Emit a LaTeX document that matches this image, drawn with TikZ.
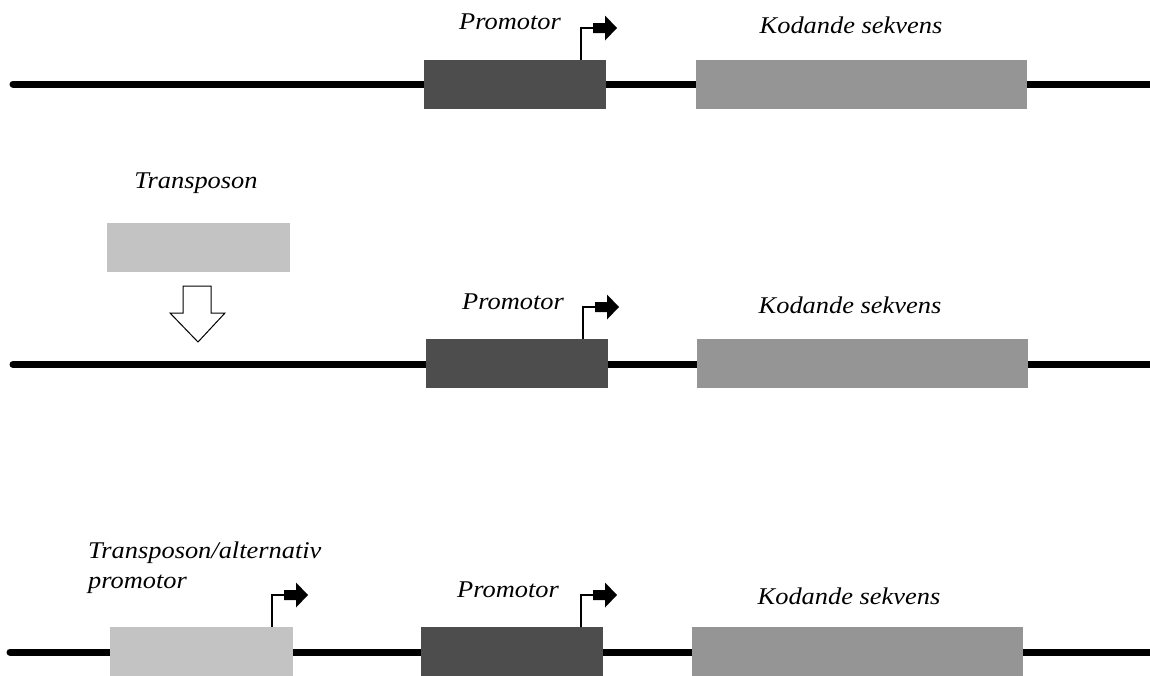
\documentclass[tikz,border=0pt]{standalone}
\usepackage{fontspec}
\setmainfont{Liberation Serif}[FakeStretch=1.1]
\usetikzlibrary{calc}
\definecolor{promcol}{HTML}{4D4D4D}
\definecolor{codcol}{HTML}{959595}
\definecolor{transcol}{HTML}{C3C3C3}
\begin{document}
\begin{tikzpicture}[x=1pt,y=-1pt,
  dna/.style={line width=7pt,line cap=round},
  seg/.style={draw=none,inner sep=0pt,anchor=north west,minimum height=49pt},
  promseg/.style={seg,fill=promcol,minimum width=182pt},
  codseg/.style={seg,fill=codcol,minimum width=331pt},
  transseg/.style={seg,fill=transcol,minimum width=183pt},
  lbl/.style={inner sep=0pt,font=\fontsize{24}{30}\selectfont\itshape},
  promarr/.pic={
    \draw[line width=1.3pt] (0,0) -- (0,-32) -- (13,-32);
    \fill (12,-27) -- (24,-27) -- (24,-44.5) -- (36,-32) -- (24,-19.5) -- (24,-37) -- (12,-37) -- cycle;
  }]
\useasboundingbox (0,0) rectangle (1150,675);
% ---------- row 1 ----------
\coordinate (L1a) at (13,84);
\coordinate (L1b) at (1160,84);
\draw[dna] (L1a) -- (L1b);
\node[promseg] (P1) at (424,60) {};
\node[codseg] (K1) at (696,60) {};
\pic at ($(P1.north west)+(157,0)$) {promarr};
\node[lbl] (tP1) at (510,22) {Promotor};
\node[lbl] (tK1) at (851,25) {Kodande sekvens};
% ---------- row 2 ----------
\node[transseg] (T2) at (107,223) {};
\node[lbl] (tT2) at (196,183) {Transposon};
\draw[line width=1pt,fill=white] (183,286) -- (211,286) -- (211,313) -- (225,313) -- (198,342) -- (170,313) -- (183,313) -- cycle;
\coordinate (L2a) at (13,364.5);
\coordinate (L2b) at (1160,364.5);
\draw[dna] (L2a) -- (L2b);
\node[promseg] (P2) at (426,339) {};
\node[codseg] (K2) at (697,339) {};
\pic at ($(P2.north west)+(157,0)$) {promarr};
\node[lbl] (tP2) at (513,302) {Promotor};
\node[lbl] (tK2) at (850,305) {Kodande sekvens};
% ---------- row 3 ----------
\coordinate (L3a) at (10,652);
\coordinate (L3b) at (1160,652);
\draw[dna] (L3a) -- (L3b);
\node[transseg] (T3) at (110,627) {};
\node[promseg] (P3) at (421,627) {};
\node[codseg] (K3) at (692,627) {};
\pic at ($(T3.north west)+(162,0)$) {promarr};
\pic at ($(P3.north west)+(160,0)$) {promarr};
\node[lbl,anchor=west,align=left] (tT3) at (88,568) {Transposon/alternativ\\promotor};
\node[lbl] (tP3) at (508,590) {Promotor};
\node[lbl] (tK3) at (849,596) {Kodande sekvens};
\end{tikzpicture}
\end{document}
